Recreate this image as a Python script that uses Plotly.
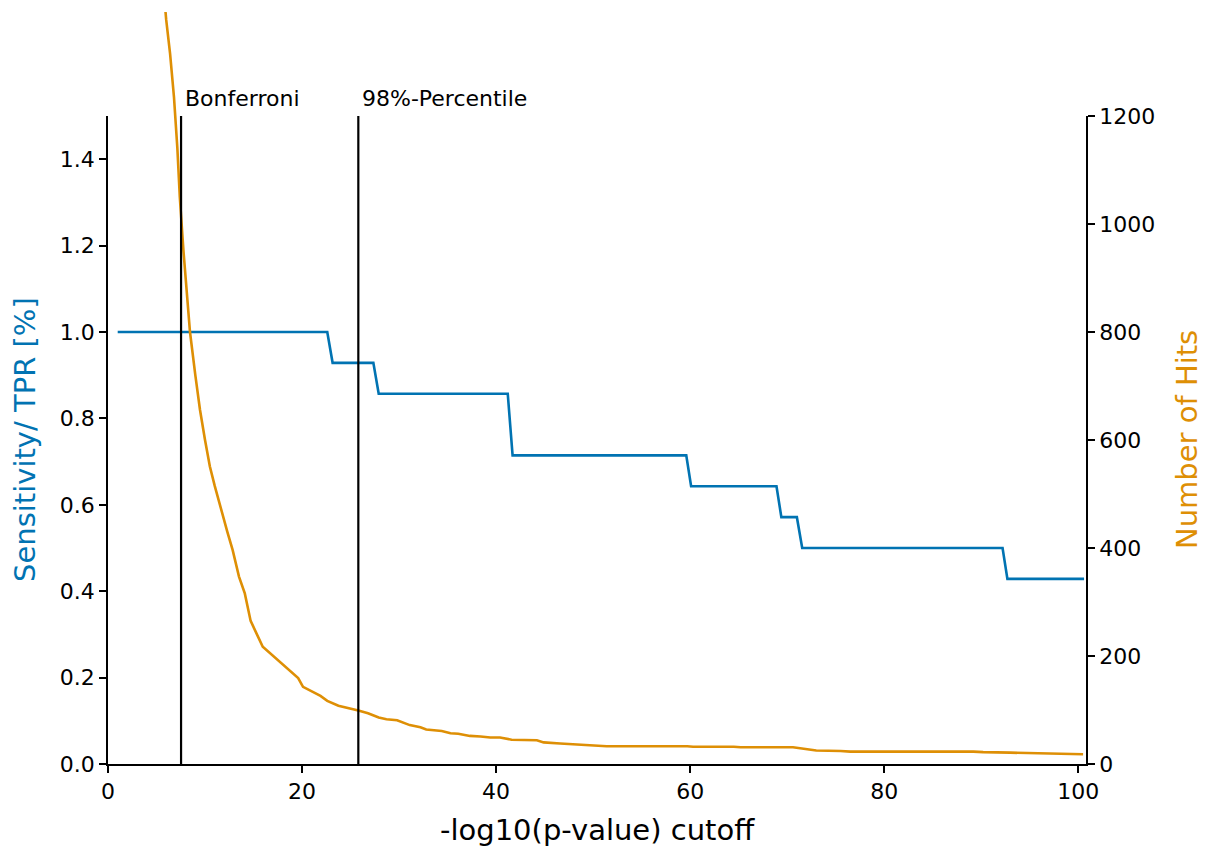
import plotly.graph_objects as go

# Sensitivity (TPR) step curve
tpr_x = [1.0, 22.6, 23.15, 27.35, 27.9, 41.2, 41.7, 59.6, 60.1, 68.9, 69.4, 71.0, 71.55, 92.2, 92.7, 100.6]
tpr_y = [1.0, 1.0, 0.9286, 0.9286, 0.8571, 0.8571, 0.7143, 0.7143, 0.6429, 0.6429, 0.5714, 0.5714, 0.5, 0.5, 0.4286, 0.4286]

# Number of hits
hits_x = [5.7, 6.0, 6.4, 6.8, 7.15, 7.4, 7.77, 8.1, 8.45, 9.0, 9.48, 10.0, 10.5, 11.0, 11.65,
          12.3, 12.85, 13.1, 13.5, 14.1, 14.7, 15.95, 16.9, 17.8, 19.0, 19.6, 20.1, 21.0, 21.9,
          22.6, 23.75, 25.8, 26.8, 27.9, 28.7, 29.8, 31.1, 32.2, 32.8, 34.4, 35.3, 36.1, 37.3,
          38.4, 39.4, 40.4, 41.6, 44.2, 44.9, 46.6, 49.0, 51.4, 59.7, 60.3, 64.5, 65.2, 70.6,
          73.0, 75.5, 76.5, 89.2, 90.2, 93.0, 95.1, 97.8, 100.5]
hits_y = [1440, 1378, 1315, 1235, 1140, 1050, 952, 875, 800, 720, 656, 600, 551, 515, 470,
          430, 396, 378, 347, 316, 265, 217, 202, 186, 168, 159, 143, 134, 126,
          117, 108, 99, 94, 86, 83, 81, 72, 68, 64, 61, 57, 56, 52,
          51, 49, 49, 45, 44, 40, 38, 35, 33, 33, 32, 32, 31, 31,
          25, 24, 23, 23, 22, 21, 20, 19, 18]

# Thresholds
threshold_names = ["Bonferroni", "98%-Percentile"]
threshold_x = [7.53, 25.8]

x_ticks = [0, 20, 40, 60, 80, 100]
left_ticks = [0.0, 0.2, 0.4, 0.6, 0.8, 1.0, 1.2, 1.4]
right_ticks = [0, 200, 400, 600, 800, 1000, 1200]

BLUE = "#0173b2"
ORANGE = "#de8f05"
FONT = "DejaVu Sans"

W, H = 1214, 846
ML, MR, MT, MB = 108, 128, 12, 82
plot_h = H - MT - MB           # 752
axes_h = 648                   # visible axes height
dom_top = axes_h / plot_h
right_max = 1200
ext_max = right_max * plot_h / axes_h

fig = go.Figure()
fig.add_trace(go.Scatter(x=tpr_x, y=tpr_y, mode="lines", line=dict(color=BLUE, width=2.6),
                         xaxis="x", yaxis="y", showlegend=False, hoverinfo="skip"))
fig.add_trace(go.Scatter(x=hits_x, y=hits_y, mode="lines", line=dict(color=ORANGE, width=2.6),
                         xaxis="x", yaxis="y3", showlegend=False, hoverinfo="skip"))

axis_common = dict(showgrid=False, zeroline=False, ticks="outside", ticklen=7, tickwidth=1.6,
                   tickcolor="black", linecolor="black", linewidth=1.6, showline=True,
                   automargin=False,
                   tickfont=dict(family=FONT, size=22, color="black"))

fig.update_layout(
    width=W, height=H,
    margin=dict(l=ML, r=MR, t=MT, b=MB, autoexpand=False),
    paper_bgcolor="white", plot_bgcolor="rgba(0,0,0,0)",
    font=dict(family=FONT, size=22, color="black"),
    xaxis=dict(range=[0, 100.8], tickvals=x_ticks, anchor="y", **axis_common),
    yaxis=dict(range=[0, 1.5], domain=[0, dom_top], tickvals=left_ticks,
               tickformat=".1f", anchor="x", **axis_common),
    yaxis2=dict(range=[0, right_max], domain=[0, dom_top], tickvals=right_ticks,
                overlaying="y", side="right", anchor="x", **axis_common),
    yaxis3=dict(range=[0, ext_max], domain=[0, 1], anchor="x", visible=False),
)
# dummy trace to make yaxis2 show
fig.add_trace(go.Scatter(x=[None], y=[None], xaxis="x", yaxis="y2", showlegend=False))

for name, xv in zip(threshold_names, threshold_x):
    fig.add_shape(type="line", xref="x", yref="y", x0=xv, x1=xv, y0=0, y1=1.5,
                  line=dict(color="black", width=2.2))
    fig.add_annotation(text=name, xref="x", yref="y", x=xv, y=1.5, xanchor="left",
                       yanchor="bottom", xshift=2, yshift=3, showarrow=False,
                       font=dict(family=FONT, size=22, color="black"))

fig.add_annotation(text="-log10(p-value) cutoff", xref="paper", yref="paper",
                   x=0.5, y=(H - MB - 830) / plot_h, xanchor="center", yanchor="middle",
                   showarrow=False, font=dict(family=FONT, size=29, color="black"))
fig.add_annotation(text="Sensitivity/ TPR [%]", xref="paper", yref="paper",
                   x=(25 - ML) / (W - ML - MR), y=(H - MB - 440) / plot_h, textangle=-90,
                   xanchor="center", yanchor="middle", showarrow=False,
                   font=dict(family=FONT, size=29, color=BLUE))
fig.add_annotation(text="Number of Hits", xref="paper", yref="paper",
                   x=(1187 - ML) / (W - ML - MR), y=(H - MB - 440) / plot_h, textangle=-90,
                   xanchor="center", yanchor="middle", showarrow=False,
                   font=dict(family=FONT, size=29, color=ORANGE))

fig.write_html("out.html")
